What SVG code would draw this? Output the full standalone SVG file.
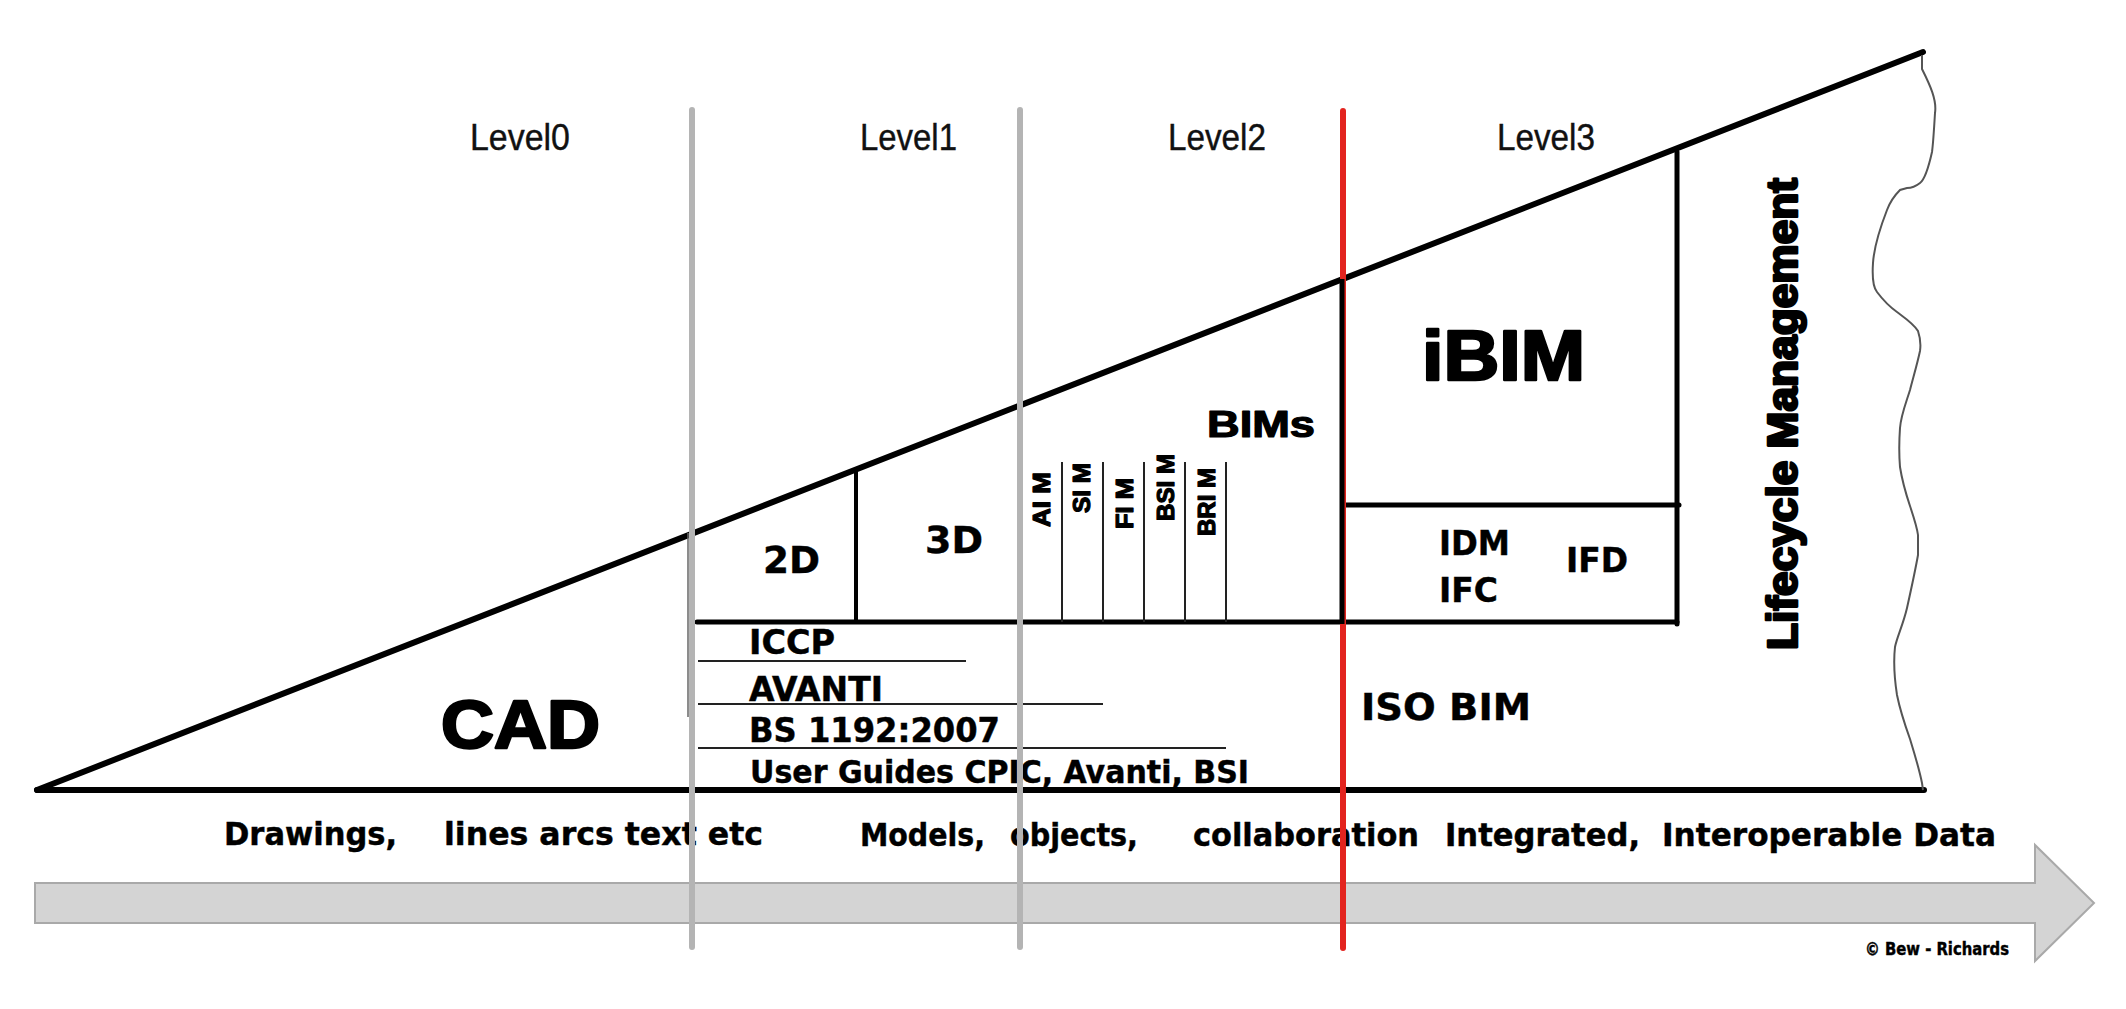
<svg xmlns="http://www.w3.org/2000/svg" width="2126" height="1009" viewBox="0 0 2126 1009">
<style>
.lvl{font-family:"Liberation Sans",Arial,sans-serif;font-size:36px;fill:#111;stroke:#111;stroke-width:0.4}
.blk{font-family:"Liberation Sans",Arial,sans-serif;font-weight:bold;fill:#000;stroke:#000;stroke-width:1.2;stroke-linejoin:round}
.heavy{stroke-width:2.6}
.tah{font-family:"DejaVu Sans Condensed","DejaVu Sans",sans-serif;font-weight:bold;fill:#000;stroke:#000;stroke-width:0.4}
.ln{stroke:#000;fill:none;stroke-linecap:round}
.thin{stroke:#222;stroke-width:2;fill:none}
.gray{stroke:#b4b4b4;stroke-width:6;stroke-linecap:round}
</style>
<rect width="2126" height="1009" fill="#fff"/>
<g id="arrow">
<polygon points="35,883 2035,883 2035,845 2094,903 2035,961 2035,923 35,923" fill="#d4d4d4" stroke="#a9a9a9" stroke-width="2"/>
</g>
<g id="frame">
<line class="ln" x1="37" y1="790" x2="1923" y2="52" stroke-width="6"/>
<line class="ln" x1="37" y1="790" x2="1924" y2="790" stroke-width="6"/>
<path d="M1922,55 L1922,69 C1930,85 1937,100 1935,113 C1934,130 1933,145 1932,152 C1928,170 1924,180 1920,183 C1915,187 1910,188 1907,188 L1900,190 C1895,195 1890,202 1887,210 C1880,228 1874,248 1873,263 C1872,278 1873,287 1877,292 C1883,300 1890,307 1897,312 C1905,318 1914,324 1918,331 C1920,337 1921,344 1920,351 C1917,365 1913,378 1910,390 C1906,403 1901,415 1900,428 C1899,442 1899,455 1900,467 C1902,480 1906,494 1910,506 C1914,518 1917,527 1918,535 L1918,555 C1915,572 1911,590 1907,608 C1903,625 1897,637 1895,647 C1893,665 1895,682 1897,695 C1900,710 1905,725 1910,739 C1914,752 1919,768 1922,783 L1923,790" fill="none" stroke="#555" stroke-width="2"/>
<line class="ln" x1="697" y1="622" x2="1677" y2="622" stroke-width="5" stroke-linecap="butt"/>
<line class="ln" x1="856" y1="469" x2="856" y2="622" stroke-width="4"/>
<line class="ln" x1="1677" y1="152" x2="1677" y2="624" stroke-width="5"/>
<line class="ln" x1="1343" y1="505" x2="1679" y2="505" stroke-width="5" stroke-linecap="butt"/>
<line x1="688" y1="533" x2="688" y2="717" stroke="#666" stroke-width="1.5"/>
</g>
<g id="bims-columns">
<line class="thin" x1="1062" y1="462" x2="1062" y2="622"/>
<line class="thin" x1="1103" y1="462" x2="1103" y2="622"/>
<line class="thin" x1="1144" y1="462" x2="1144" y2="622"/>
<line class="thin" x1="1185" y1="462" x2="1185" y2="622"/>
<line class="thin" x1="1226" y1="462" x2="1226" y2="622"/>
<text class="blk" font-size="24" transform="translate(1050,527) rotate(-90)" textLength="55" lengthAdjust="spacingAndGlyphs">AI M</text>
<text class="blk" font-size="24" transform="translate(1090,513) rotate(-90)" textLength="50" lengthAdjust="spacingAndGlyphs">SI M</text>
<text class="blk" font-size="24" transform="translate(1133,529) rotate(-90)" textLength="51" lengthAdjust="spacingAndGlyphs">FI M</text>
<text class="blk" font-size="24" transform="translate(1174,521) rotate(-90)" textLength="67" lengthAdjust="spacingAndGlyphs">BSI M</text>
<text class="blk" font-size="24" transform="translate(1215,536) rotate(-90)" textLength="68" lengthAdjust="spacingAndGlyphs">BRI M</text>
</g>
<g id="standards">
<line class="thin" x1="698" y1="661" x2="966" y2="661"/>
<line class="thin" x1="698" y1="704" x2="1103" y2="704"/>
<line class="thin" x1="698" y1="748" x2="1226" y2="748"/>
<text class="tah" font-size="33" x="749" y="654" textLength="86" lengthAdjust="spacingAndGlyphs">ICCP</text>
<text class="tah" font-size="33" x="749" y="701" textLength="134" lengthAdjust="spacingAndGlyphs">AVANTI</text>
<text class="tah" font-size="33" x="749" y="742" textLength="251" lengthAdjust="spacingAndGlyphs">BS 1192:2007</text>
<text class="tah" font-size="32" x="750" y="783" textLength="499" lengthAdjust="spacingAndGlyphs">User Guides CPIC, Avanti, BSI</text>
</g>
<g id="levels">
<text class="lvl" x="470" y="150" textLength="100" lengthAdjust="spacingAndGlyphs">Level0</text>
<text class="lvl" x="860" y="150" textLength="97" lengthAdjust="spacingAndGlyphs">Level1</text>
<text class="lvl" x="1168" y="150" textLength="98" lengthAdjust="spacingAndGlyphs">Level2</text>
<text class="lvl" x="1497" y="150" textLength="98" lengthAdjust="spacingAndGlyphs">Level3</text>
</g>
<g id="labels">
<text class="blk heavy" font-size="68" x="441" y="748" textLength="159" lengthAdjust="spacingAndGlyphs">CAD</text>
<text class="tah" font-size="38" x="763" y="573" textLength="57" lengthAdjust="spacingAndGlyphs">2D</text>
<text class="tah" font-size="38" x="925" y="553" textLength="58" lengthAdjust="spacingAndGlyphs">3D</text>
<text class="blk" font-size="36" x="1207" y="437" textLength="108" lengthAdjust="spacingAndGlyphs">BIMs</text>
<text class="blk heavy" font-size="70" x="1422" y="380" textLength="163" lengthAdjust="spacingAndGlyphs">iBIM</text>
<text class="tah" font-size="34" x="1439" y="555" textLength="71" lengthAdjust="spacingAndGlyphs">IDM</text>
<text class="tah" font-size="34" x="1439" y="602" textLength="59" lengthAdjust="spacingAndGlyphs">IFC</text>
<text class="tah" font-size="34" x="1566" y="572" textLength="62" lengthAdjust="spacingAndGlyphs">IFD</text>
<text class="tah" font-size="38" x="1361" y="720" textLength="170" lengthAdjust="spacingAndGlyphs">ISO BIM</text>
<text class="blk heavy" font-size="42" transform="translate(1797,650) rotate(-90)" textLength="472" lengthAdjust="spacingAndGlyphs">Lifecycle Management</text>
</g>
<g id="timeline-text">
<text class="tah" font-size="32" x="224" y="845" textLength="173" lengthAdjust="spacingAndGlyphs">Drawings,</text>
<text class="tah" font-size="32" x="444" y="845" textLength="319" lengthAdjust="spacingAndGlyphs">lines arcs text etc</text>
<text class="tah" font-size="32" x="860" y="846" textLength="125" lengthAdjust="spacingAndGlyphs">Models,</text>
<text class="tah" font-size="32" x="1010" y="846" textLength="128" lengthAdjust="spacingAndGlyphs">objects,</text>
<text class="tah" font-size="32" x="1193" y="846" textLength="226" lengthAdjust="spacingAndGlyphs">collaboration</text>
<text class="tah" font-size="32" x="1445" y="846" textLength="195" lengthAdjust="spacingAndGlyphs">Integrated,</text>
<text class="tah" font-size="32" x="1662" y="846" textLength="334" lengthAdjust="spacingAndGlyphs">Interoperable Data</text>
<text class="tah" font-size="17" x="1865" y="955" textLength="144" lengthAdjust="spacingAndGlyphs" stroke-width="0">© Bew - Richards</text>
</g>
<g id="connectors">
<line class="gray" x1="692" y1="110" x2="692" y2="947"/>
<line class="gray" x1="1020" y1="110" x2="1020" y2="947"/>
<line x1="1343" y1="111" x2="1343" y2="948" stroke="#e3241f" stroke-width="6" stroke-linecap="round"/>
<line x1="1342" y1="279" x2="1342" y2="624" stroke="#000" stroke-width="5"/>
</g>
</svg>
